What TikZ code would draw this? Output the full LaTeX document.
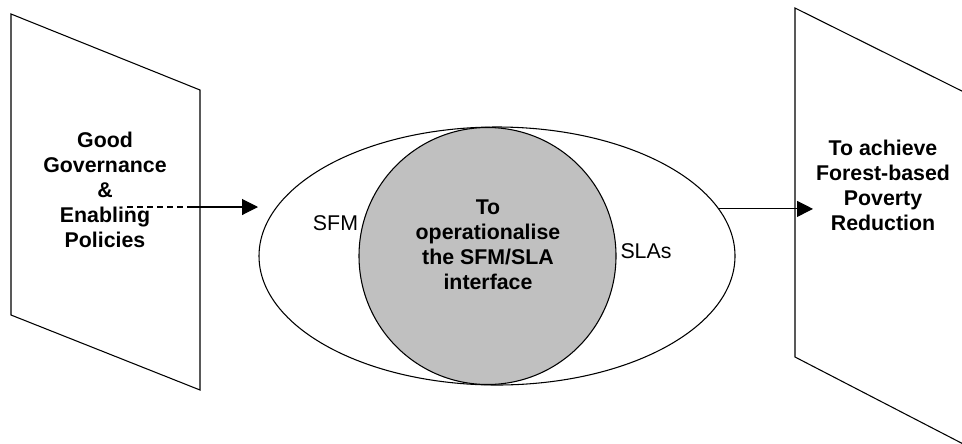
\documentclass[tikz,border=0pt]{standalone}
\usepackage{fontspec}
\setmainfont{Liberation Sans}
\usetikzlibrary{arrows.meta,shapes.geometric}
\definecolor{corefill}{RGB}{192,192,192}
\begin{document}
\begin{tikzpicture}[x=0.75pt,y=-0.75pt,
  every node/.style={inner sep=0pt, outer sep=0pt},
  panel/.style={draw, line width=0.8pt},
  bigtxt/.style={font=\fontsize{16}{18.75}\selectfont\bfseries, align=center},
  smalltxt/.style={font=\fontsize{16}{18.75}\selectfont},
  conn/.style={line width=0.8pt, -{Triangle[length=12pt,width=12pt]}}]
\useasboundingbox (0,0) rectangle (962,443);
\clip (0,0) rectangle (962,443);
% side panels
\draw[panel] (11,14) -- (200,90) -- (200,390) -- (11,315) -- cycle;
\draw[panel] (795,8) -- (1000,110) -- (1000,463) -- (795,357) -- cycle;
% ellipse and circle
\node[draw, ellipse, line width=0.8pt, minimum width=357pt, minimum height=193.5pt] (ell) at (497,256) {};
\node[draw, circle, fill=corefill, line width=0.8pt, minimum size=192.75pt] (core) at (487.5,256) {};
% texts
\node[bigtxt] (gg) at (105,190) {Good\\Governance\\\&\\Enabling\\Policies};
\node[bigtxt] (goal) at (883,185) {To achieve\\Forest-based\\Poverty\\Reduction};
\node[bigtxt] (aim) at (488,245) {To\\operationalise\\the SFM/SLA\\interface};
\node[smalltxt] (sfm) at (335.5,223) {SFM};
\node[smalltxt] (sla) at (646,251) {SLAs};
% arrows
\coordinate (dashstart) at (127,207);
\coordinate (dashend) at (190,207);
\coordinate (tipL) at (258,207);
\coordinate (tipR) at (813,207);
\draw[line width=0.8pt, dash pattern=on 4.5pt off 3pt] (dashstart) -- (dashend);
\draw[conn] (dashend) -- (tipL);
\draw[conn] (ell.12.56) -- (ell.12.56 -| tipR);
\end{tikzpicture}
\end{document}
